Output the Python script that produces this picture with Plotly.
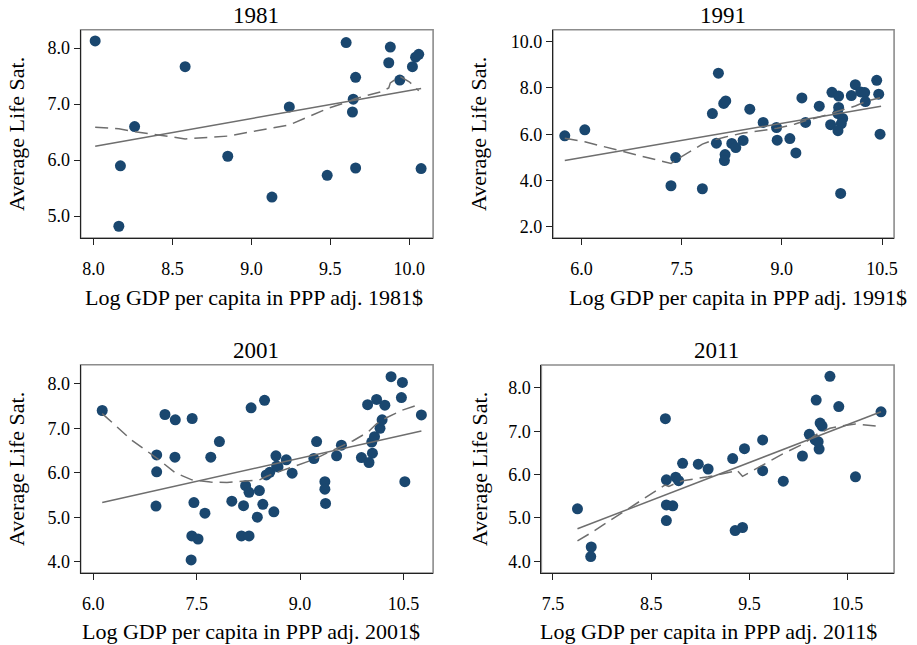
import plotly.graph_objects as go

# ---------------- data ----------------
years = ["1981", "1991", "2001", "2011"]

gdp_1981 = [8.01, 8.17, 8.16, 8.26, 8.58, 8.85, 9.13, 9.24, 9.48, 9.60, 9.645, 9.64, 9.66, 9.66,
            9.87, 9.88, 9.94, 10.02, 10.04, 10.06, 10.075]
ls_1981 = [8.13, 5.90, 4.82, 6.60, 7.67, 6.07, 5.34, 6.95, 5.73, 8.10, 7.09, 6.86, 7.48, 5.86,
           7.74, 8.02, 7.43, 7.67, 7.84, 7.89, 5.85]

gdp_1991 = [5.75, 6.05, 7.34, 7.41, 7.81, 7.96, 8.05, 8.02, 8.13, 8.16, 8.15, 8.14, 8.25, 8.31,
            8.42, 8.52, 8.72, 8.92, 8.93, 9.12, 9.21, 9.30, 9.355, 9.56, 9.73, 9.75, 9.85, 9.85,
            9.84, 9.91, 9.89, 9.84, 9.88, 10.04, 10.10, 10.18, 10.24, 10.25, 10.42, 10.45, 10.47]
ls_1991 = [5.93, 6.19, 3.77, 4.99, 3.64, 6.89, 8.64, 5.61, 7.33, 7.44, 5.12, 4.86, 5.60, 5.42,
           5.73, 7.08, 6.51, 6.29, 5.74, 5.81, 5.19, 7.57, 6.51, 7.21, 6.41, 7.81, 7.65, 7.16,
           6.89, 6.68, 6.46, 6.15, 3.44, 7.67, 8.14, 7.83, 7.80, 7.41, 8.33, 7.73, 6.00]

gdp_2001 = [6.13, 6.92, 6.92, 6.91, 7.04, 7.19, 7.185, 7.435, 7.46, 7.43, 7.52, 7.42, 7.62, 7.705,
            7.83, 8.01, 8.18, 8.21, 8.26, 8.15, 8.26, 8.29, 8.38, 8.41, 8.46, 8.485, 8.51, 8.56,
            8.68, 8.62, 8.65, 8.66, 8.80, 8.885, 9.20, 9.24, 9.36, 9.36, 9.37, 9.53, 9.60, 9.89,
            10.00, 9.98, 10.05, 10.04, 10.08, 10.11, 10.16, 10.19, 10.23, 10.32, 10.485, 10.47,
            10.52, 10.76]
ls_2001 = [7.40, 6.40, 6.02, 5.25, 7.31, 7.19, 6.35, 7.22, 5.33, 4.58, 4.51, 4.04, 5.09, 6.35,
           6.70, 5.36, 5.26, 5.71, 5.56, 4.58, 4.58, 7.46, 5.00, 5.60, 5.29, 7.63, 5.95, 6.01,
           6.13, 5.12, 6.38, 6.15, 6.29, 5.99, 6.32, 6.70, 5.80, 5.63, 5.31, 6.38, 6.62, 6.34,
           6.23, 7.53, 6.44, 6.69, 6.81, 7.65, 7.00, 7.19, 7.52, 8.16, 8.03, 7.69, 5.80, 7.30]

gdp_2011 = [7.75, 7.89, 7.885, 8.645, 8.655, 8.655, 8.72, 8.655, 8.75, 8.78, 8.82, 8.98, 9.08,
            9.33, 9.355, 9.43, 9.45, 9.635, 9.635, 9.845, 10.04, 10.11, 10.17, 10.18, 10.21,
            10.20, 10.22, 10.24, 10.32, 10.41, 10.58, 10.84]
ls_2011 = [5.21, 4.33, 4.11, 7.29, 5.88, 5.30, 5.28, 4.94, 5.94, 5.86, 6.26, 6.24, 6.13,
           6.37, 4.71, 4.78, 6.60, 6.80, 6.09, 5.85, 6.43, 6.93, 6.80, 7.72, 6.59,
           6.76, 7.19, 7.12, 8.27, 7.57, 5.95, 7.45]

# linear fit lines (end points)
fit_x = {"1981": [8.01, 10.075], "1991": [5.75, 10.485], "2001": [6.13, 10.76], "2011": [7.75, 10.84]}
fit_y = {"1981": [6.25, 7.28], "1991": [4.86, 7.21], "2001": [5.33, 6.94], "2011": [4.75, 7.45]}

# lowess (dashed) curves, vertices
lw_x = {
    "1981": [8.01, 8.16, 8.26, 8.58, 8.85, 9.13, 9.24, 9.48, 9.60, 9.66, 9.82, 9.87, 9.88, 9.94, 10.00, 10.06],
    "1991": [5.75, 6.05, 7.34, 7.41, 7.81, 7.96, 8.14, 8.42, 8.73, 8.93, 9.20, 9.35, 9.56, 9.75, 9.85,
             9.90, 10.10, 10.26, 10.47],
    "2001": [6.13, 6.56, 6.92, 7.04, 7.19, 7.43, 7.70, 7.94, 8.25, 8.41, 8.52, 8.68, 8.89, 9.20, 9.48,
             9.77, 9.99, 10.11, 10.23, 10.47, 10.76],
    "2011": [7.75, 7.89, 8.64, 8.68, 8.73, 8.82, 9.08, 9.33, 9.37, 9.43, 9.635, 9.84, 10.04, 10.20,
             10.32, 10.42, 10.58, 10.84],
}
lw_y = {
    "1981": [6.59, 6.56, 6.51, 6.38, 6.43, 6.57, 6.63, 6.92, 7.03, 7.10, 7.22, 7.29, 7.38, 7.50, 7.40, 7.24],
    "1991": [5.82, 5.67, 4.73, 4.88, 5.57, 5.73, 5.87, 6.05, 6.17, 6.26, 6.44, 6.58, 6.74, 6.93, 7.00,
             7.05, 7.22, 7.42, 7.58],
    "2001": [7.33, 6.73, 6.33, 6.18, 6.00, 5.84, 5.79, 5.78, 5.82, 5.84, 5.92, 6.02, 6.13, 6.30, 6.51,
             6.72, 6.92, 7.10, 7.22, 7.40, 7.55],
    "2011": [4.47, 4.66, 5.76, 5.73, 5.78, 5.86, 5.95, 6.07, 6.11, 5.96, 6.22, 6.48, 6.70, 6.95,
             7.07, 7.12, 7.17, 7.11],
}

points = {"1981": (gdp_1981, ls_1981), "1991": (gdp_1991, ls_1991),
          "2001": (gdp_2001, ls_2001), "2011": (gdp_2011, ls_2011)}

x_ranges = {"1981": [7.918, 10.151], "1991": [5.572, 10.68], "2001": [5.817, 10.93], "2011": [7.382, 10.973]}
y_ranges = {"1981": [4.61, 8.33], "1991": [1.51, 10.52], "2001": [3.745, 8.43], "2011": [3.73, 8.53]}
x_ticks = {"1981": [8.0, 8.5, 9.0, 9.5, 10.0], "1991": [6.0, 7.5, 9.0, 10.5],
           "2001": [6.0, 7.5, 9.0, 10.5], "2011": [7.5, 8.5, 9.5, 10.5]}
y_ticks = {"1981": [5, 6, 7, 8], "1991": [2, 4, 6, 8, 10],
           "2001": [4, 5, 6, 7, 8], "2011": [4, 5, 6, 7, 8]}

# ---------------- layout geometry (pixels) ----------------
W, H = 917, 645
boxes = {  # left, right, top, bottom in px
    "1981": (81, 435, 29.7, 238),
    "1991": (555.3, 898, 29.7, 238),
    "2001": (81, 435, 364.7, 573),
    "2011": (543.7, 898, 365, 573),
}
title_pos = {"1981": (257, 15), "1991": (726, 15), "2001": (257, 350), "2011": (720, 350)}
xtitle_pos = {"1981": (255, 297), "1991": (741, 297), "2001": (252, 631), "2011": (712, 631)}
ytitle_pos = {"1981": (17, 134), "1991": (481, 134), "2001": (16, 469), "2011": (481, 469)}

def px(x):
    return x / W

def py(y):
    return 1 - y / H

FONT = "Liberation Serif"
MARKER = "#1a476f"
LINE = "#6e6e6e"
AXIS = "#222222"
FRAME = "#8c8c8c"

fig = go.Figure()
annotations = []
shapes = []
for i, yr in enumerate(years):
    n = "" if i == 0 else str(i + 1)
    xa, ya = "x" + n, "y" + n
    gx, gy = points[yr]
    fig.add_trace(go.Scatter(x=gx, y=gy, mode="markers", xaxis=xa, yaxis=ya,
                             marker=dict(color=MARKER, size=11, line=dict(width=0)),
                             showlegend=False, name="Average Life Sat."))
    fig.add_trace(go.Scatter(x=fit_x[yr], y=fit_y[yr], mode="lines", xaxis=xa, yaxis=ya,
                             line=dict(color=LINE, width=1.5), showlegend=False, name="Linear fit"))
    fig.add_trace(go.Scatter(x=lw_x[yr], y=lw_y[yr], mode="lines", xaxis=xa, yaxis=ya,
                             line=dict(color=LINE, width=1.5, dash="13px,7px"),
                             showlegend=False, name="Lowess"))
    l, r, t, b = boxes[yr]
    axis_common = dict(showline=True, mirror=False, linecolor=AXIS, linewidth=1,
                       ticks="outside", ticklen=6, tickcolor=AXIS, tickwidth=1,
                       showgrid=False, zeroline=False, tickformat=".1f",
                       tickfont=dict(family=FONT, size=18, color="black"))
    fig.update_layout({
        "xaxis" + n: dict(domain=[px(l), px(r)], range=x_ranges[yr], tickvals=x_ticks[yr],
                          anchor=ya, ticklabelstandoff=8, **axis_common),
        "yaxis" + n: dict(domain=[py(b), py(t)], range=y_ranges[yr], tickvals=y_ticks[yr],
                          anchor=xa, **axis_common),
    })
    # plot-region outline (lighter grey top/right edges)
    shapes.append(dict(type="rect", xref=xa + " domain", yref=ya + " domain",
                       x0=0, x1=1, y0=0, y1=1, layer="below",
                       line=dict(color=FRAME, width=1.6), fillcolor="rgba(0,0,0,0)"))
    tx, ty = title_pos[yr]
    annotations.append(dict(text=yr, x=px(tx), y=py(ty), xref="paper", yref="paper",
                            showarrow=False, xanchor="center", yanchor="middle",
                            font=dict(family=FONT, size=23, color="black")))
    tx, ty = xtitle_pos[yr]
    annotations.append(dict(text=f"Log GDP per capita in PPP adj. {yr}$", x=px(tx), y=py(ty),
                            xref="paper", yref="paper", showarrow=False,
                            xanchor="center", yanchor="middle",
                            font=dict(family=FONT, size=22, color="black")))
    tx, ty = ytitle_pos[yr]
    annotations.append(dict(text="Average Life Sat.", x=px(tx), y=py(ty), xref="paper", yref="paper",
                            showarrow=False, textangle=-90, xanchor="center", yanchor="middle",
                            font=dict(family=FONT, size=22, color="black")))

fig.update_layout(width=W, height=H, margin=dict(l=0, r=0, t=0, b=0),
                  paper_bgcolor="white", plot_bgcolor="white",
                  annotations=annotations, shapes=shapes, showlegend=False)

fig.write_html("out.html", config={"displayModeBar": False},
               post_script="document.body.style.margin='0px';document.body.style.overflow='hidden';")
